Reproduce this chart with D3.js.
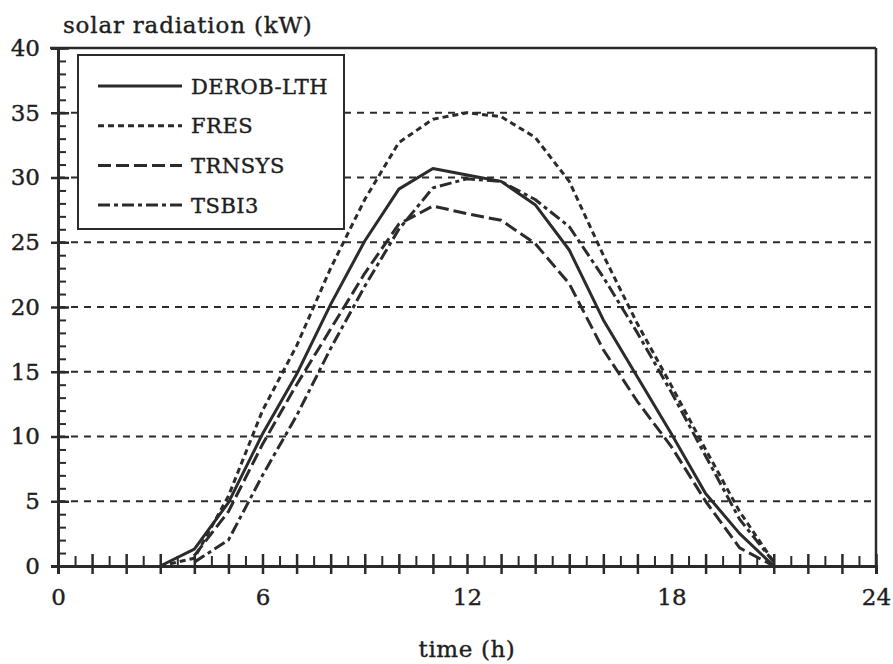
<!DOCTYPE html>
<html>
<head>
<meta charset="utf-8">
<script src="https://cdn.jsdelivr.net/npm/d3@7"></script>
<style>
  html, body { margin: 0; padding: 0; background: #ffffff; }
  svg { display: block; }
  text { font-family: "DejaVu Serif", serif; fill: #1e1e1e; }
</style>
</head>
<body>
<svg id="chart" width="893" height="664"></svg>
<script>
// ---------------- data ----------------
const hours = [3, 4, 5, 6, 7, 8, 9, 10, 11, 12, 13, 14, 15, 16, 17, 18, 19, 20, 21];
const derobLTH = [0, 1.3, 4.9, 10.2, 14.8, 20.2, 25.1, 29.1, 30.7, 30.2, 29.7, 27.9, 24.4, 19.0, 14.6, 10.2, 5.6, 2.5, 0];
const fres     = [0, 0.6, 5.4, 12.0, 17.0, 23.0, 28.3, 32.7, 34.5, 35.0, 34.7, 33.1, 29.7, 24.0, 18.7, 13.9, 9.0, 4.2, 0.3];
const trnsys   = [null, 0.8, 4.2, 9.4, 14.0, 18.3, 22.6, 26.4, 27.8, 27.2, 26.7, 24.9, 21.8, 16.7, 12.7, 9.2, 5.0, 1.4, 0];
const tsbi3    = [null, 0.3, 2.0, 7.0, 11.6, 16.8, 21.6, 26.0, 29.2, 29.9, 29.7, 28.3, 26.2, 22.3, 18.0, 13.4, 8.5, 3.6, 0.3];

const seriesNames = ["DEROB-LTH", "FRES", "TRNSYS", "TSBI3"];
const seriesValues = [derobLTH, fres, trnsys, tsbi3];
const seriesDash = ["none", "6,4", "13,5", "12,4,4,4"];

const xTickLabels = [0, 6, 12, 18, 24];
const yTickLabels = [0, 5, 10, 15, 20, 25, 30, 35, 40];
const gridValues = [5, 10, 15, 20, 25, 30, 35];

const yTitle = "solar radiation (kW)";
const xTitle = "time (h)";

// ---------------- chart ----------------
const svg = d3.select("#chart");
const ink = "#2b2b2b";

const x = d3.scaleLinear().domain([0, 24]).range([58, 876]);
const y = d3.scaleLinear().domain([0, 40]).range([566, 48]);

// grid lines
svg.append("g").selectAll("line").data(gridValues).join("line")
  .attr("x1", x(0)).attr("x2", x(24))
  .attr("y1", d => y(d)).attr("y2", d => y(d))
  .attr("stroke", ink).attr("stroke-width", 2)
  .attr("stroke-dasharray", "7,6");

// frame: top and right
svg.append("line").attr("x1", x(0) - 8).attr("x2", x(24)).attr("y1", y(40)).attr("y2", y(40))
  .attr("stroke", ink).attr("stroke-width", 2.5);
svg.append("line").attr("x1", x(24)).attr("x2", x(24)).attr("y1", y(40)).attr("y2", y(0))
  .attr("stroke", ink).attr("stroke-width", 2.5);

// series
const line = d3.line()
  .defined(d => d[1] !== null)
  .x(d => x(d[0]))
  .y(d => y(d[1]));

seriesValues.forEach((vals, i) => {
  svg.append("path")
    .datum(hours.map((h, k) => [h, vals[k]]))
    .attr("fill", "none")
    .attr("stroke", ink)
    .attr("stroke-width", 3)
    .attr("stroke-linejoin", "round")
    .attr("stroke-dasharray", seriesDash[i])
    .attr("d", line);
});

// legend
const lg = svg.append("g");
lg.append("rect").attr("x", 78).attr("y", 55).attr("width", 266).attr("height", 174)
  .attr("fill", "#fff").attr("stroke", ink).attr("stroke-width", 2);
seriesNames.forEach((name, i) => {
  const yy = 86 + i * 39.7;
  lg.append("line").attr("x1", 98).attr("x2", 182).attr("y1", yy).attr("y2", yy)
    .attr("stroke", ink).attr("stroke-width", 3).attr("stroke-dasharray", seriesDash[i]);
  lg.append("text").attr("x", 191).attr("y", yy + 7.5)
    .attr("font-size", 21).attr("letter-spacing", 0.5)
    .attr("stroke", "#1e1e1e").attr("stroke-width", 0.4).text(name);
});

// y axis: minor ticks (inside)
svg.append("g").attr("transform", `translate(${x(0)},0)`)
  .call(d3.axisLeft(y).tickValues(d3.range(0, 41, 1)).tickSize(-8).tickFormat(""))
  .call(g => g.select(".domain").remove())
  .call(g => g.selectAll(".tick line").attr("stroke", ink).attr("stroke-width", 2));

const styleTickText = g => g.selectAll(".tick text")
  .attr("font-size", 23).attr("font-family", "DejaVu Serif")
  .attr("fill", "#1e1e1e").attr("stroke", "#1e1e1e").attr("stroke-width", 0.4);

// y axis: major ticks + labels
svg.append("g").attr("transform", `translate(${x(0)},0)`)
  .call(d3.axisLeft(y).tickValues(yTickLabels).tickSize(7).tickPadding(11))
  .call(g => g.select(".domain").attr("stroke", ink).attr("stroke-width", 3))
  .call(g => g.selectAll(".tick line").attr("x1", 11).attr("stroke", ink).attr("stroke-width", 2.5))
  .call(styleTickText);

// x axis: half-hour minor ticks (inside)
svg.append("g").attr("transform", `translate(0,${y(0)})`)
  .call(d3.axisBottom(x).tickValues(d3.range(0.5, 24, 1)).tickSize(-10).tickFormat(""))
  .call(g => g.select(".domain").remove())
  .call(g => g.selectAll(".tick line").attr("stroke", ink).attr("stroke-width", 2));

// x axis: hourly ticks crossing the axis
svg.append("g").attr("transform", `translate(0,${y(0)})`)
  .call(d3.axisBottom(x).tickValues(d3.range(0, 25, 1)).tickSize(8).tickFormat(""))
  .call(g => g.select(".domain").attr("stroke", ink).attr("stroke-width", 3))
  .call(g => g.selectAll(".tick line").attr("y1", -12).attr("stroke", ink).attr("stroke-width", 2.5));

// x axis labels
svg.append("g").attr("transform", `translate(0,${y(0)})`)
  .call(d3.axisBottom(x).tickValues(xTickLabels).tickSize(0).tickPadding(23))
  .call(g => g.select(".domain").remove())
  .call(styleTickText);

// titles
svg.append("text").attr("x", 63).attr("y", 33).attr("font-size", 23).attr("letter-spacing", 0.8)
  .attr("stroke", "#1e1e1e").attr("stroke-width", 0.4).text(yTitle);
svg.append("text").attr("x", x(12)).attr("y", 657).attr("text-anchor", "middle")
  .attr("font-size", 23).attr("letter-spacing", 0.6)
  .attr("stroke", "#1e1e1e").attr("stroke-width", 0.4).text(xTitle);
</script>
</body>
</html>
